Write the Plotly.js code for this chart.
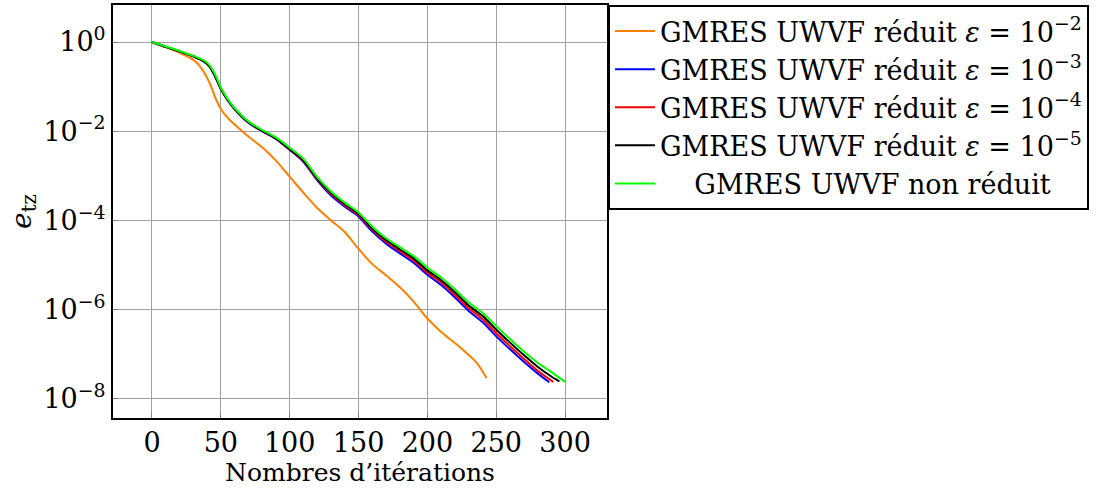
<!DOCTYPE html>
<html>
<head>
<meta charset="utf-8">
<script src="https://cdn.plot.ly/plotly-3.0.1.min.js"></script>
<style>html,body{margin:0;padding:0;background:#fff;}#chart{width:1103px;height:492px;}</style>
</head>
<body>
<div id="chart"></div>
<script>
// Iterations and log10(e_tz) values
const orangeIter = [0,10,20,30,35,40,43,46,50,55,60,70,80,90,100,110,120,130,140,150,160,170,180,190,200,210,220,230,236,243];
const orangeLog10 = [0,-0.12,-0.24,-0.40,-0.55,-0.80,-1.00,-1.25,-1.50,-1.70,-1.85,-2.12,-2.36,-2.66,-3.02,-3.38,-3.72,-4.00,-4.26,-4.64,-4.98,-5.23,-5.50,-5.82,-6.20,-6.50,-6.75,-7.02,-7.20,-7.54];

const blueIter = [0,10,20,30,38,42,46,50,55,60,70,80,90,100,110,120,130,140,150,155,160,170,180,190,200,210,220,230,240,250,260,270,280,288.5];
const blueLog10 = [0,-0.11,-0.21,-0.32,-0.44,-0.56,-0.78,-1.05,-1.31,-1.51,-1.81,-2.00,-2.17,-2.42,-2.69,-3.10,-3.44,-3.69,-3.91,-4.08,-4.25,-4.52,-4.74,-4.95,-5.22,-5.45,-5.73,-6.03,-6.28,-6.60,-6.89,-7.17,-7.43,-7.63];

const redIter = [0,10,20,30,38,42,46,50,55,60,70,80,90,100,110,120,130,140,150,155,160,170,180,190,200,210,220,230,240,250,260,270,280,291.4];
const redLog10 = [0,-0.11,-0.21,-0.32,-0.44,-0.56,-0.78,-1.05,-1.30,-1.50,-1.80,-1.99,-2.16,-2.41,-2.67,-3.08,-3.41,-3.66,-3.88,-4.04,-4.21,-4.48,-4.69,-4.90,-5.17,-5.39,-5.67,-5.97,-6.21,-6.53,-6.82,-7.10,-7.37,-7.62];

const blackIter = [0,10,20,30,38,42,46,50,55,60,70,80,90,100,110,120,130,140,150,155,160,170,180,190,200,210,220,230,240,250,260,270,280,290,295.8];
const blackLog10 = [0,-0.11,-0.21,-0.32,-0.44,-0.56,-0.78,-1.05,-1.30,-1.50,-1.80,-1.99,-2.16,-2.40,-2.65,-3.06,-3.38,-3.63,-3.85,-4.01,-4.18,-4.44,-4.65,-4.85,-5.12,-5.34,-5.61,-5.91,-6.14,-6.45,-6.74,-7.02,-7.28,-7.50,-7.61];

const greenIter = [0,10,20,30,38,42,46,50,55,60,70,80,90,100,110,120,130,140,150,155,160,170,180,190,200,210,220,230,240,250,260,270,280,290,300];
const greenLog10 = [0,-0.10,-0.20,-0.31,-0.42,-0.53,-0.74,-1.02,-1.28,-1.48,-1.78,-1.97,-2.14,-2.37,-2.62,-3.03,-3.35,-3.60,-3.82,-3.98,-4.14,-4.40,-4.60,-4.80,-5.06,-5.28,-5.55,-5.84,-6.07,-6.37,-6.66,-6.94,-7.19,-7.40,-7.62];

const seriesNames = [
  'GMRES UWVF réduit <i>ε</i> = 10<sup>−2</sup>',
  'GMRES UWVF réduit <i>ε</i> = 10<sup>−3</sup>',
  'GMRES UWVF réduit <i>ε</i> = 10<sup>−4</sup>',
  'GMRES UWVF réduit <i>ε</i> = 10<sup>−5</sup>',
  '\u00a0\u00a0\u00a0\u00a0GMRES UWVF non réduit'
];
const seriesColors = ['#ff8000','#0000ff','#ff0000','#000000','#00ff00'];

const xTickVals = [0,50,100,150,200,250,300];
const yTickVals = [1,1e-2,1e-4,1e-6,1e-8];
const yTickText = ['10<sup>0</sup>','10<sup>−2</sup>','10<sup>−4</sup>','10<sup>−6</sup>','10<sup>−8</sup>'];

const iters = [orangeIter, blueIter, redIter, blackIter, greenIter];
const logs = [orangeLog10, blueLog10, redLog10, blackLog10, greenLog10];

const font = 'DejaVu Serif';
const traces = iters.map((it, i) => ({
  x: it,
  y: logs[i].map(v => Math.pow(10, v)),
  type: 'scatter',
  mode: 'lines',
  name: seriesNames[i],
  line: {color: seriesColors[i], width: 2, shape: 'spline', smoothing: 0.8}
}));

const layout = {
  width: 1103, height: 492,
  margin: {l: 113, r: 496, t: 5, b: 74},
  paper_bgcolor: '#fff', plot_bgcolor: '#fff',
  font: {family: font, size: 26, color: '#000'},
  showlegend: true,
  legend: {
    x: 1.002, xanchor: 'left', y: 1, yanchor: 'top',
    bordercolor: '#000', borderwidth: 2, bgcolor: '#fff',
    font: {family: font, size: 27, color: '#000'},
    tracegroupgap: 0, itemwidth: 40
  },
  xaxis: {
    range: [-28.3, 330.4],
    tickvals: xTickVals,
    showgrid: true, gridcolor: '#a0a0a0', gridwidth: 1,
    zeroline: false,
    showline: true, linecolor: '#000', linewidth: 2, mirror: true,
    ticks: 'inside', ticklen: 5, tickcolor: '#808080',
    tickfont: {family: font, size: 27},
    title: {text: 'Nombres d’itérations', font: {family: font, size: 25}, standoff: 4}
  },
  yaxis: {
    type: 'log',
    range: [-8.43, 0.83],
    tickvals: yTickVals, ticktext: yTickText,
    showgrid: true, gridcolor: '#a0a0a0', gridwidth: 1,
    zeroline: false,
    showline: true, linecolor: '#000', linewidth: 2, mirror: true,
    ticks: 'inside', ticklen: 5, tickcolor: '#808080',
    tickfont: {family: font, size: 27},
    title: {text: '<i>e</i><sub>tz</sub>', font: {family: font, size: 28}, standoff: 4}
  }
};

Plotly.newPlot('chart', traces, layout, {staticPlot: true, displayModeBar: false});
</script>
</body>
</html>
